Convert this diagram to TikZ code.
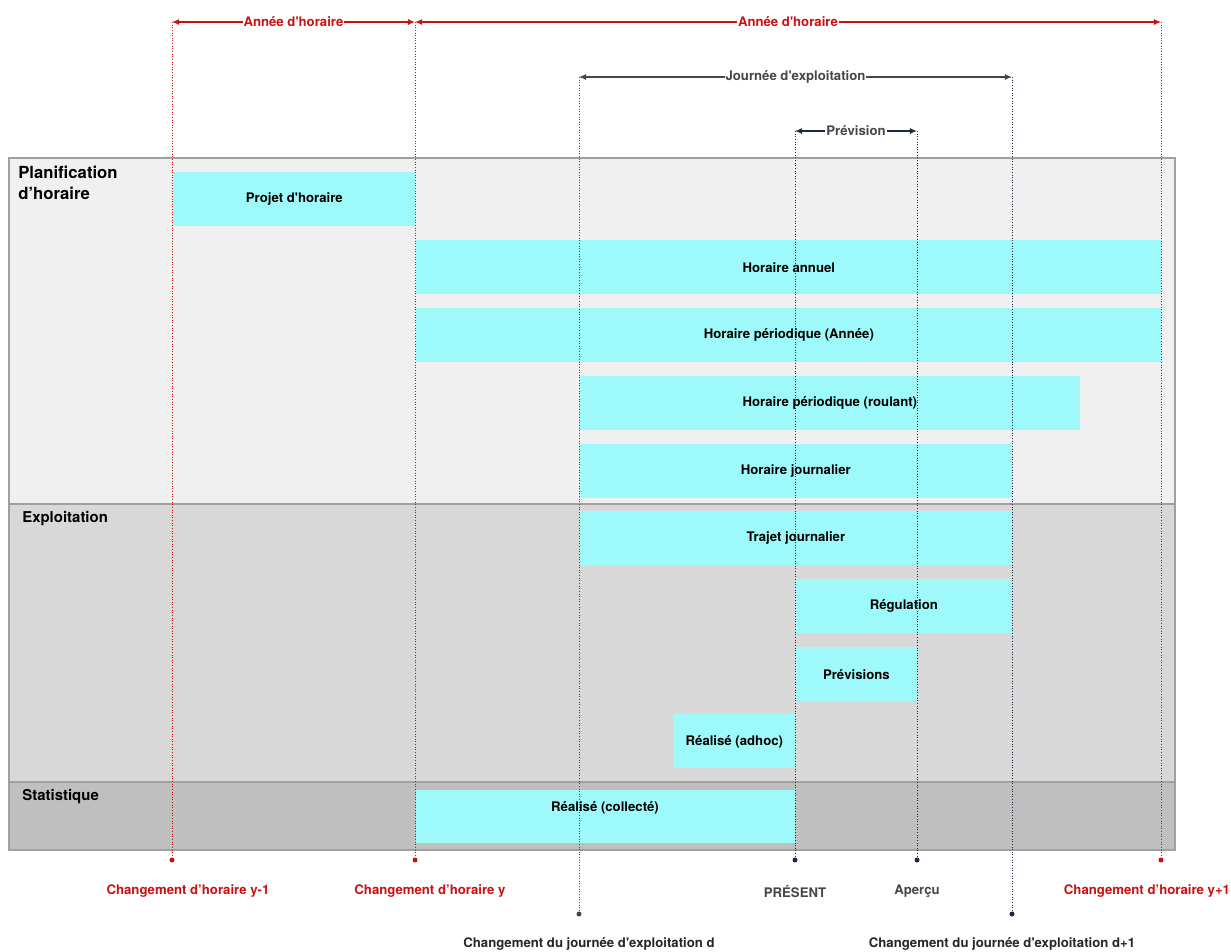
\documentclass[tikz,border=0pt]{standalone}
\usepackage{fontspec}
\setmainfont{TeX Gyre Heros}
\usetikzlibrary{arrows.meta}
\definecolor{cyanbox}{RGB}{158,250,250}
\definecolor{planbg}{RGB}{240,240,240}
\definecolor{explbg}{RGB}{216,216,216}
\definecolor{statbg}{RGB}{191,191,191}
\definecolor{bandline}{RGB}{160,160,160}
\definecolor{redline}{RGB}{204,16,16}
\definecolor{grayline}{RGB}{70,70,70}
\definecolor{navyline}{RGB}{28,42,72}
\newcommand\sq{\textquotesingle}
\tikzset{
  bartext/.style={font=\fontsize{7.5}{9}\selectfont\bfseries, text=black},
  cbar/.style={fill=cyanbox, inner sep=0pt, anchor=north west, bartext},
  band/.style={draw=bandline, line width=0.7pt},
  bandtitle/.style={anchor=north west, align=left, inner sep=0pt, font=\bfseries, text=black},
  redvl/.style={draw=redline, densely dotted, line width=0.5pt},
  grayvl/.style={draw=grayline, densely dotted, line width=0.5pt},
  navyvl/.style={draw=navyline, densely dotted, line width=0.5pt},
  spanarrow/.style={line width=0.8pt, {Latex[length=4pt,width=3.5pt]}-{Latex[length=4pt,width=3.5pt]}},
  spanlabel/.style={fill=white, inner sep=0.5pt, font=\fontsize{7.5}{9}\selectfont\bfseries},
  enddot/.style={circle, inner sep=0pt, minimum size=0.1cm},
  bottomlabel/.style={font=\fontsize{7.5}{9}\selectfont\bfseries, inner sep=0pt},
}
\begin{document}
\begin{tikzpicture}[x=0.02cm,y=-0.02cm]
\useasboundingbox[fill=white] (0,0) rectangle (1231,951);

% bands
\fill[planbg] (9,158) rectangle (1175,504);
\fill[explbg] (9,504) rectangle (1175,782);
\fill[statbg] (9,782) rectangle (1175,850);
\draw[band] (9,158) rectangle (1175,850);
\draw[band] (9,504) -- (1175,504);
\draw[band] (9,782) -- (1175,782);

\node[bandtitle, font=\fontsize{9.5}{12}\selectfont\bfseries] (plan) at (18,166) {Planification\\d’horaire};
\node[bandtitle, font=\fontsize{8.5}{10}\selectfont\bfseries] (expl) at (22,511) {Exploitation};
\node[bandtitle, font=\fontsize{8.5}{10}\selectfont\bfseries] (stat) at (22,789) {Statistique};

% bars
\node[cbar, minimum width=242*0.02cm, minimum height=54*0.02cm] (projet) at (173,172) {Projet d\sq horaire};
\node[cbar, minimum width=745*0.02cm, minimum height=54*0.02cm] (annuel) at (416,240) {Horaire annuel};
\node[cbar, minimum width=745*0.02cm, minimum height=54*0.02cm] (perannee) at (416,308) {Horaire périodique (Année)};
\node[cbar, minimum width=501*0.02cm, minimum height=54*0.02cm] (perroul) at (579,376) {Horaire périodique (roulant)};
\node[cbar, minimum width=433*0.02cm, minimum height=54*0.02cm] (journalier) at (579,444) {Horaire journalier};
\node[cbar, minimum width=433*0.02cm, minimum height=54*0.02cm] (trajet) at (579,511) {Trajet journalier};
\node[cbar, minimum width=217*0.02cm, minimum height=54*0.02cm] (regul) at (795,579) {Régulation};
\node[cbar, minimum width=122*0.02cm, minimum height=54*0.02cm] (previsions) at (795,647) {Prévisions};
\node[cbar, minimum width=122*0.02cm, minimum height=54*0.02cm] (adhoc) at (673,714) {Réalisé (adhoc)};
\node[cbar, minimum width=379*0.02cm, minimum height=53*0.02cm] (collecte) at (416,790) {};
\node[bartext] (collectetxt) at (605,808) {Réalisé (collecté)};

% top coordinates
\coordinate (tA) at (172,22);
\coordinate (tB) at (415,22);
\coordinate (tC) at (1161,22);
\coordinate (tD) at (579,77);
\coordinate (tE) at (1012,77);
\coordinate (tF) at (795,131);
\coordinate (tG) at (917,131);

% bottom dots
\node[enddot, fill=redline] (bA) at (172,860) {};
\node[enddot, fill=redline] (bB) at (415,860) {};
\node[enddot, fill=redline] (bC) at (1161,860) {};
\node[enddot, fill=grayline] (bD) at (579,914) {};
\node[enddot, fill=navyline] (bE) at (1012,914) {};
\node[enddot, fill=navyline] (bF) at (795,860) {};
\node[enddot, fill=navyline] (bG) at (917,860) {};

% vertical dotted lines
\draw[redvl] (tA) -- (bA);
\draw[redvl] (tB) -- (bB);
\draw[redvl] (tC) -- (bC);
\draw[grayvl] (tD) -- (bD);
\draw[navyvl] (tE) -- (bE);
\draw[navyvl] (tF) -- (bF);
\draw[navyvl] (tG) -- (bG);

% span arrows
\draw[spanarrow, draw=redline] (tA) -- (tB) node[midway, spanlabel, text=redline] (ann1) {Année d\sq horaire};
\draw[spanarrow, draw=redline] (tB) -- (tC) node[midway, spanlabel, text=redline] (ann2) {Année d\sq horaire};
\draw[spanarrow, draw=grayline] (tD) -- (tE) node[midway, spanlabel, text=grayline] (jour) {Journée d\sq exploitation};
\draw[spanarrow, draw=navyline] (tF) -- (tG) node[midway, spanlabel, text=grayline] (prev) {Prévision};

% bottom labels
\node[bottomlabel, text=redline] (lA) at (188,891) {Changement d’horaire y-1};
\node[bottomlabel, text=redline] (lB) at (430,891) {Changement d’horaire y};
\node[bottomlabel, text=redline] (lC) at (1147,891) {Changement d’horaire y+1};
\node[bottomlabel, text=grayline] (lF) at (795,891) {PRÉSENT};
\node[bottomlabel, text=grayline] (lG) at (917,891) {Aperçu};
\node[bottomlabel, text=black!85] (lD) at (589,944) {Changement du journée d\sq exploitation d};
\node[bottomlabel, text=black!85] (lE) at (1002,944) {Changement du journée d\sq exploitation d+1};
\end{tikzpicture}
\end{document}
